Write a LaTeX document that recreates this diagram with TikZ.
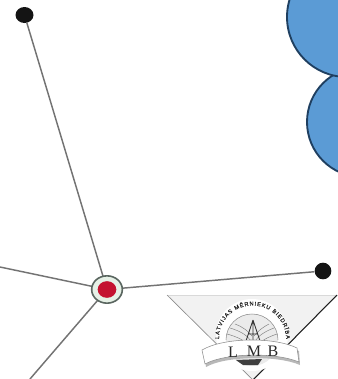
\documentclass[tikz,border=0pt]{standalone}
\usepackage{fontspec}
\setmainfont{Liberation Serif}
\newfontfamily\arcfont{Liberation Sans}[FakeBold=0.4]
\usetikzlibrary{decorations.text,shapes.geometric}
\definecolor{blobfill}{HTML}{5B9BD5}
\definecolor{blobline}{HTML}{1F3F60}
\definecolor{hubfill}{HTML}{E6F0E6}
\definecolor{hubline}{HTML}{5A6660}
\definecolor{hubred}{HTML}{C41230}
\tikzset{
  spoke/.style={draw=black!55,line width=1.1pt},
  endpoint/.style={ellipse,fill=black!92,inner sep=0pt},
  blob/.style={fill=blobfill,draw=blobline,line width=1.4pt},
  logoline/.style={draw=black!50,line width=0.35pt},
}
\begin{document}
\begin{tikzpicture}[x=0.75pt,y=-0.75pt]
\useasboundingbox (0,0) rectangle (338,379);
\clip (0,0) rectangle (338,379);
% blue circles
\draw[blob] (362,122) circle[radius=55];
\draw[blob] (347,17) circle[radius=60];
% spokes
\node[endpoint,minimum width=13.5pt,minimum height=12pt] (top) at (24.5,15) {};
\node[endpoint,minimum width=12.5pt,minimum height=12.5pt] (right) at (323,271) {};
\coordinate (west) at (0,267);
\coordinate (south) at (30,379);
\coordinate (c) at (107,289.5);
\draw[spoke] (top) -- (c);
\draw[spoke] (right) -- (c);
\draw[spoke] (west) -- (c);
\draw[spoke] (south) -- (c);
\node[ellipse,fill=hubfill,draw=hubline,line width=1.2pt,minimum width=23pt,minimum height=20.5pt,inner sep=0pt] (hub) at (c) {};
\node[ellipse,fill=hubred,minimum width=14pt,minimum height=12.5pt,inner sep=0pt] (red) at (c) {};
% logo triangle
\fill[black!5] (167,295) -- (337,295) -- (253,380) -- cycle;
\draw[black!15,line width=0.5pt] (167,295) -- (337,295);
\draw[black!45,line width=0.5pt] (167,295) -- (253,380);
\draw[black!88,line width=0.8pt] (337,295) -- (253,380);
% emblem
\fill[white] (252,335) circle[radius=36];
\fill[black!8] (252,340) circle[radius=26];
\draw[black!45,line width=0.4pt] (226,340) arc[start angle=180,end angle=360,radius=26];
\draw[logoline] (227,334) .. controls (238,337) and (246,341) .. (250,347);
\draw[logoline] (230,328) .. controls (240,331) and (247,335) .. (251,341);
\draw[logoline] (235,324) .. controls (243,327) and (248,331) .. (252,336);
\draw[logoline] (277,334) .. controls (268,337) and (260,341) .. (256,347);
\draw[logoline] (274,328) .. controls (266,331) and (259,335) .. (255,341);
\draw[logoline] (269,324) .. controls (263,327) and (258,331) .. (254,336);
\draw[black!80,line width=0.7pt] (253,320) -- (246,341) (253,320) -- (260,341) (253,320) -- (253,341) (248,334) -- (258,334);
\path[decorate,decoration={text along path,text align={fit to path},
  text={|\arcfont\fontsize{4.2pt}{4.2pt}\selectfont\color{black!85}|LATVIJAS MĒRNIEKU BIEDRĪBA}}]
  (219,339) arc[start angle=180,end angle=360,radius=33.5];
% banner
\fill[black!28] (204,353) .. controls (225,340) and (277,340) .. (299,351) -- (300,365) .. controls (277,355) and (225,356) .. (206,367) -- cycle;
\filldraw[fill=white,draw=black!45,line width=0.4pt] (202,350) .. controls (224,337) and (275,337) .. (297,348) -- (299,362) .. controls (275,352) and (225,353) .. (205,364) -- cycle;
\node[font=\fontsize{12pt}{12pt}\selectfont,text=black!85,inner sep=0pt] (lmbl) at (233,352) {L};
\node[font=\fontsize{12pt}{12pt}\selectfont,text=black!85,inner sep=0pt] (lmbm) at (254,351) {M};
\node[font=\fontsize{12pt}{12pt}\selectfont,text=black!85,inner sep=0pt] (lmbb) at (273,351) {B};
\fill[black!75] (236,360) -- (262,359) -- (258,365) -- (243,365) -- cycle;
\end{tikzpicture}
\end{document}
